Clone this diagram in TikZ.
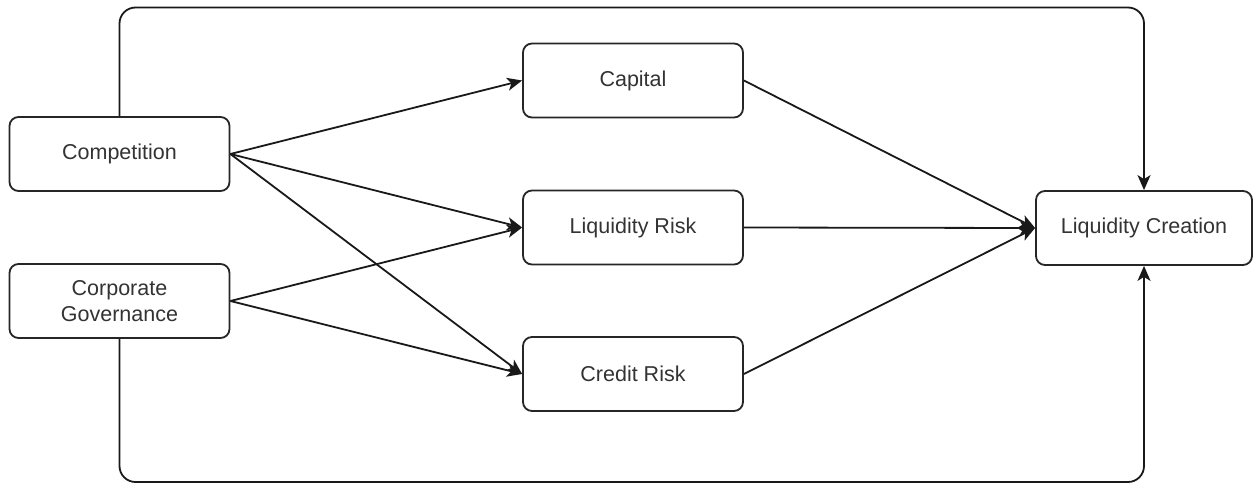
\documentclass[tikz,border=0pt]{standalone}
\usepackage{fontspec}
\setmainfont{Liberation Sans}
\usetikzlibrary{arrows.meta}
\begin{document}
\begin{tikzpicture}[x=1pt,y=-1pt,
  box/.style={draw=black!85, line width=1.8pt, rounded corners=9pt, fill=white,
    minimum width=220pt, minimum height=74pt, align=center, text=black!80,
    font=\fontsize{21.5}{26}\selectfont, inner sep=0pt},
  conn/.style={draw=black!90, line width=1.8pt, -{Stealth[length=15pt,width=13pt,inset=4pt]}},
  loopline/.style={conn, rounded corners=16pt}]
\useasboundingbox (0,0) rectangle (1255,485);
\node[box] (comp) at (119.5,154) {Competition};
\node[box] (cg) at (119.5,301) {Corporate\\Governance};
\node[box] (cap) at (633,80.5) {Capital};
\node[box] (lr) at (633,227.5) {Liquidity Risk};
\node[box] (cr) at (633,374) {Credit Risk};
\node[box, minimum width=216pt] (lc) at (1144,228) {Liquidity Creation};
\coordinate (top) at (0,7.5);
\coordinate (bot) at (0,482);
\draw[loopline] (comp.north) -- (comp.north |- top) -| (lc.north);
\draw[loopline] (cg.south) -- (cg.south |- bot) -| (lc.south);
\draw[conn] (comp.east) -- (cap.west);
\draw[conn] (comp.east) -- (lr.west);
\draw[conn] (comp.east) -- (cr.west);
\draw[conn] (cg.east) -- (lr.west);
\draw[conn] (cg.east) -- (cr.west);
\draw[conn] (cap.east) -- (lc.west);
\draw[conn] (lr.east) -- (lc.west);
\draw[conn] (cr.east) -- (lc.west);
\end{tikzpicture}
\end{document}
